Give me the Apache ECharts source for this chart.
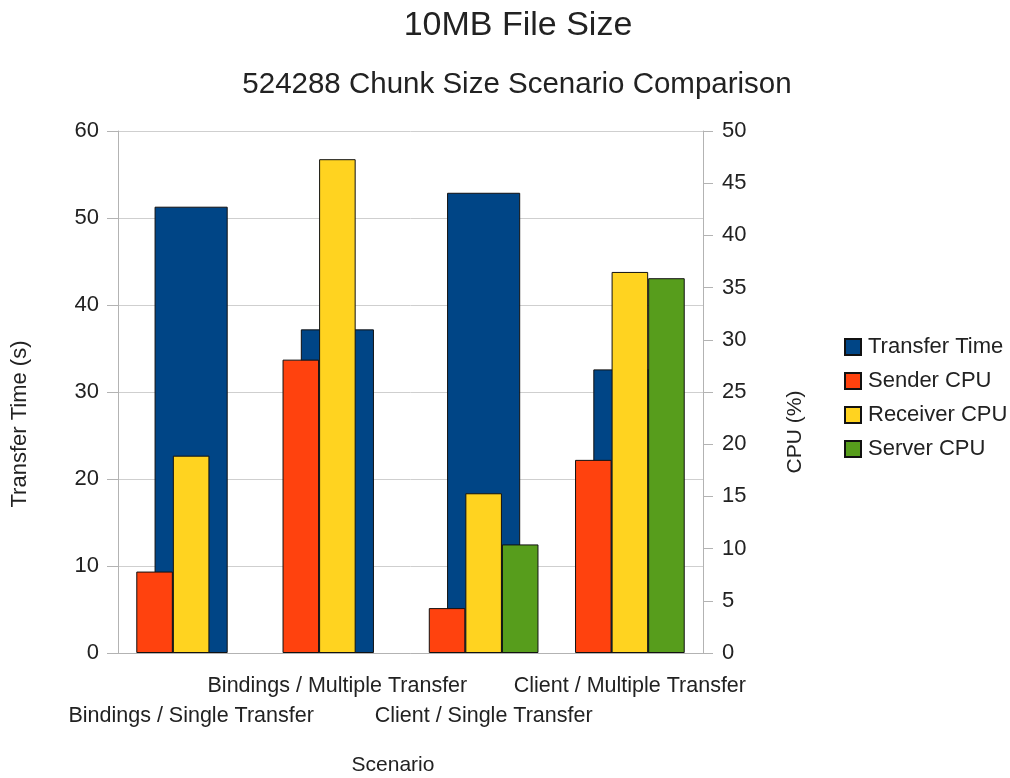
<!DOCTYPE html>
<html>
<head>
<meta charset="utf-8">
<script src="https://cdn.jsdelivr.net/npm/echarts@6/dist/echarts.min.js"></script>
<style>
  html, body { margin: 0; padding: 0; background: #fff; }
  #chart { width: 1010px; height: 778px; }
</style>
</head>
<body>
<div id="chart"></div>
<script>
// data
const scenarios = ['Bindings / Single Transfer', 'Bindings / Multiple Transfer', 'Client / Single Transfer', 'Client / Multiple Transfer']
const transferTime = [51.3, 37.2, 52.9, 32.6]
const senderCpu = [7.8, 28.1, 4.3, 18.5]
const receiverCpu = [18.9, 47.3, 15.3, 36.5]
const serverCpu = [null, null, 10.4, 35.9] // no server in the bindings runs

const font = 'Liberation Sans, Arial, sans-serif'
const grayLine = '#b3b3b3'
const textColor = '#222'

const chart = echarts.init(document.getElementById('chart'))

const cpuBar = (name, data, color) => ({
  name,
  type: 'bar',
  xAxisIndex: 1,
  yAxisIndex: 1,
  data,
  barWidth: '25%',
  barGap: '0%',
  z: 3,
  itemStyle: { color, borderColor: '#111', borderWidth: 1 }
})

chart.setOption({
  animation: false,
  backgroundColor: '#fff',
  textStyle: { fontFamily: font },
  title: [
    { text: '10MB File Size', left: 513, textAlign: 'center', top: 4,
      textStyle: { fontSize: 34, fontWeight: 'normal', color: textColor, fontFamily: font } },
    { text: '524288 Chunk Size Scenario Comparison', left: 512, textAlign: 'center', top: 65,
      textStyle: { fontSize: 29.5, fontWeight: 'normal', color: textColor, fontFamily: font } }
  ],
  legend: {
    orient: 'vertical',
    left: 844,
    top: 336,
    padding: 0,
    icon: 'rect',
    itemWidth: 16,
    itemHeight: 16,
    itemGap: 12,
    textStyle: { fontSize: 22, color: textColor, fontFamily: font, padding: [0, 0, 0, 2] },
    data: ['Transfer Time', 'Sender CPU', 'Receiver CPU', 'Server CPU']
  },
  grid: { left: 118, right: 307, top: 131, bottom: 125, containLabel: false },
  xAxis: [
    {
      type: 'category',
      data: scenarios,
      axisLine: { lineStyle: { color: grayLine } },
      axisTick: { length: 9, lineStyle: { color: grayLine } },
      axisLabel: {
        interval: 0,
        hideOverlap: false,
        margin: 18,
        fontSize: 21.5,
        lineHeight: 30,
        color: textColor,
        formatter: (v, i) => (i % 2 === 0 ? '\n' + v : v)
      }
    },
    { type: 'category', data: scenarios, show: false }
  ],
  yAxis: [
    {
      type: 'value', min: 0, max: 60, interval: 10,
      axisLine: { show: true, lineStyle: { color: grayLine } },
      axisTick: { show: true, length: 11, lineStyle: { color: grayLine } },
      axisLabel: { fontSize: 22, color: textColor, margin: 19 },
      splitLine: { lineStyle: { color: '#cfcfcf', width: 1 } }
    },
    {
      type: 'value', min: 0, max: 50, interval: 5,
      axisLine: { show: true, lineStyle: { color: grayLine } },
      axisTick: { show: true, length: 10, lineStyle: { color: grayLine } },
      axisLabel: { fontSize: 22, color: textColor, margin: 19 },
      splitLine: { show: false }
    }
  ],
  graphic: [
    { type: 'text', x: 20, y: 424, rotation: Math.PI / 2,
      style: { text: 'Transfer Time (s)', font: '22px ' + font, fill: textColor, align: 'center', verticalAlign: 'middle' } },
    { type: 'text', x: 795, y: 432, rotation: Math.PI / 2,
      style: { text: 'CPU (%)', font: '21px ' + font, fill: textColor, align: 'center', verticalAlign: 'middle' } },
    { type: 'text', x: 393, y: 765,
      style: { text: 'Scenario', font: '21px ' + font, fill: textColor, align: 'center', verticalAlign: 'middle' } }
  ],
  series: [
    {
      name: 'Transfer Time',
      type: 'bar',
      xAxisIndex: 0,
      yAxisIndex: 0,
      data: transferTime,
      barWidth: '50%',
      z: 2,
      itemStyle: { color: '#004586', borderColor: '#111', borderWidth: 1 }
    },
    cpuBar('Sender CPU', senderCpu, '#ff420e'),
    cpuBar('Receiver CPU', receiverCpu, '#ffd320'),
    cpuBar('Server CPU', serverCpu, '#579d1c')
  ]
})
</script>
</body>
</html>
